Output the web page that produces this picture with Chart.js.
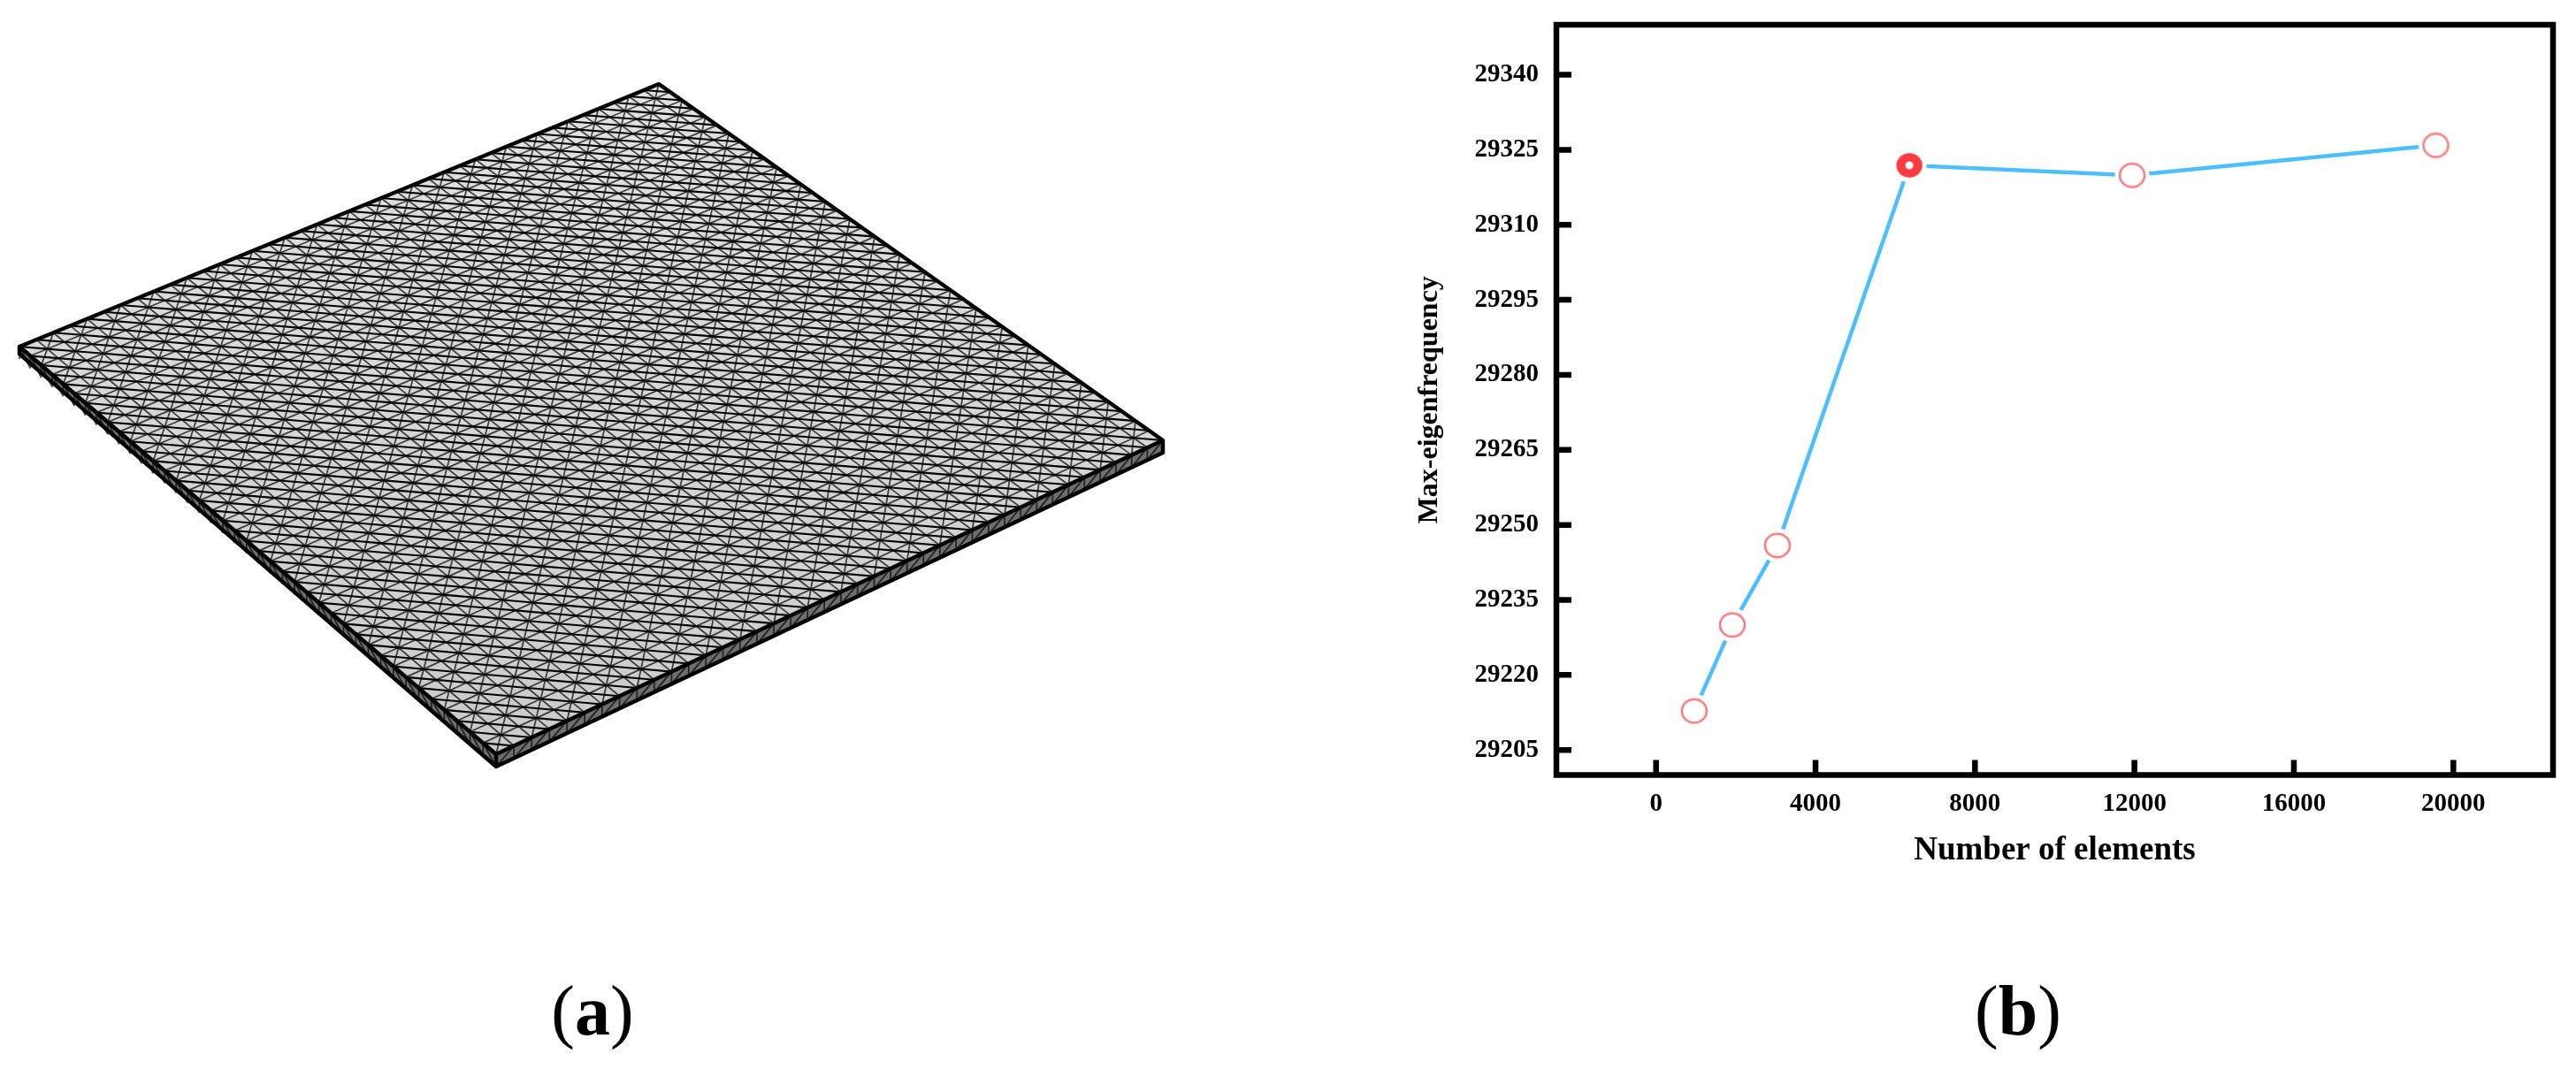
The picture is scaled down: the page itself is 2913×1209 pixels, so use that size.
<!DOCTYPE html>
<html>
<head>
<meta charset="utf-8">
<title>Max-eigenfrequency</title>
<script src="https://cdn.jsdelivr.net/npm/chart.js@4/dist/chart.umd.min.js"></script>
<style>
  html, body { margin: 0; padding: 0; background: #fff; width: 2913px; height: 1209px; overflow: hidden; }
  canvas { position: absolute; }
  #malha { left: 0; top: 0; }
  #grafico { left: 1560px; top: 0; }
  .legenda { position: absolute; top: 1098px; width: 200px; text-align: center; font: 400 80px "Liberation Serif", serif; color: #000; }
  .legenda b { font-weight: 700; }
</style>
</head>
<body>
<canvas id="malha" width="1400" height="950"></canvas>
<canvas id="grafico" width="1353" height="1000"></canvas>
<div class="legenda" style="left:570px">(<b>a</b>)</div>
<div class="legenda" style="left:2182px">(<b>b</b>)</div>
<script>
const elementos = [957, 1914, 3043, 6354, 11943, 19560];
const frequencias = [29212.8, 29230, 29245.9, 29321.9, 29319.9, 29325.9];
const marcadorDestaque = 3; // ponto cheio em vermelho

const ticksX = [0, 4000, 8000, 12000, 16000, 20000];
const ticksY = [29205, 29220, 29235, 29250, 29265, 29280, 29295, 29310, 29325, 29340];

const fonteSerif = '"Liberation Serif", "Times New Roman", serif';

function criarMarcador(cheio) {
    const c = document.createElement('canvas');
    c.width = 44;
    c.height = 44;
    const g = c.getContext('2d');
    // halo branco: a linha para antes de encostar no marcador
    g.fillStyle = '#fff';
    g.beginPath();
    g.arc(22, 22, 19.5, 0, Math.PI * 2);
    g.fill();
    g.beginPath();
    if (cheio) {
        g.ellipse(22, 22, 14.7, 13.7, 0, 0, Math.PI * 2);
        g.fillStyle = '#ff3b3f';
        g.fill();
        g.beginPath();
        g.arc(22, 22, 4.5, 0, Math.PI * 2);
        g.fillStyle = '#fff';
        g.fill();
    } else {
        g.ellipse(22, 22, 14, 13.2, 0, 0, Math.PI * 2);
        g.strokeStyle = '#ff7a7c';
        g.lineWidth = 2.6;
        g.stroke();
    }
    return c;
}

const anelVazio = criarMarcador(false);
const anelCheio = criarMarcador(true);

// moldura e ticks para dentro, o chart.js so desenha ticks para fora
const molduraPlugin = {
    id: 'moldura',
    afterDatasetsDraw(chart) {
        const { ctx, chartArea: a, scales } = chart;
        ctx.save();
        ctx.strokeStyle = '#000';
        ctx.lineWidth = 6.5;
        ctx.strokeRect(a.left, a.top, a.right - a.left, a.bottom - a.top);
        ctx.beginPath();
        scales.x.ticks.forEach((t, i) => {
            const px = scales.x.getPixelForTick(i);
            ctx.moveTo(px, a.bottom);
            ctx.lineTo(px, a.bottom - 17);
        });
        scales.y.ticks.forEach((t, i) => {
            const py = scales.y.getPixelForTick(i);
            ctx.moveTo(a.left, py);
            ctx.lineTo(a.left + 17, py);
        });
        ctx.stroke();
        ctx.restore();
    }
};

new Chart(document.getElementById('grafico'), {
    type: 'line',
    data: {
        datasets: [{
            data: elementos.map((x, i) => ({ x, y: frequencias[i] })),
            borderColor: '#4dbeff',
            borderWidth: 4.5,
            tension: 0,
            fill: false,
            pointRadius: 16,
            pointStyle: ctx => ctx.dataIndex === marcadorDestaque ? anelCheio : anelVazio
        }]
    },
    options: {
        responsive: false,
        animation: false,
        layout: { padding: { top: 28, right: 26, left: 0, bottom: 0 } },
        plugins: { legend: { display: false }, tooltip: { enabled: false } },
        scales: {
            x: {
                type: 'linear',
                min: -2500,
                max: 22500,
                grid: { display: false, drawTicks: false },
                border: { display: false },
                afterBuildTicks: s => { s.ticks = ticksX.map(value => ({ value })); },
                afterFit: s => { s.height = 123.5; s.paddingLeft = 0; s.paddingRight = 0; },
                ticks: {
                    autoSkip: false,
                    maxRotation: 0,
                    padding: 16,
                    color: '#000',
                    font: { family: fonteSerif, size: 29, weight: 'bold' },
                    callback: v => String(v)
                },
                title: {
                    display: true,
                    text: 'Number of elements',
                    color: '#000',
                    padding: { top: 0, bottom: 15 },
                    font: { family: fonteSerif, size: 37, weight: 'bold' }
                }
            },
            y: {
                type: 'linear',
                min: 29200,
                max: 29350,
                grid: { display: false, drawTicks: false },
                border: { display: false },
                afterBuildTicks: s => { s.ticks = ticksY.map(value => ({ value })); },
                afterFit: s => { s.width = 200; s.paddingTop = 0; s.paddingBottom = 0; },
                ticks: {
                    autoSkip: false,
                    padding: 20,
                    color: '#000',
                    font: { family: fonteSerif, size: 29, weight: 'bold' },
                    callback: v => String(v)
                },
                title: {
                    display: true,
                    text: 'Max-eigenfrequency',
                    color: '#000',
                    padding: { top: 38, bottom: 0 },
                    font: { family: fonteSerif, size: 32, weight: 'bold' }
                }
            }
        }
    },
    plugins: [molduraPlugin]
});

// painel (a): a placa com malha triangular, desenhada a parte
const topo = [745, 95], esquerda = [22, 392], direita = [1315, 498], baixo = [561, 853];
const espessura = 14;
const nCelulas = 40;

function homografia(u, v) {
    // mapeia o quadrado unitario nos quatro cantos: (0,0) topo, (1,0) esquerda, (1,1) baixo, (0,1) direita
    const [x0, y0] = topo, [x1, y1] = esquerda, [x2, y2] = baixo, [x3, y3] = direita;
    const dx1 = x1 - x2, dx2 = x3 - x2, sx = x0 - x1 + x2 - x3;
    const dy1 = y1 - y2, dy2 = y3 - y2, sy = y0 - y1 + y2 - y3;
    const det = dx1 * dy2 - dx2 * dy1;
    const g = (sx * dy2 - dx2 * sy) / det;
    const h = (dx1 * sy - sx * dy1) / det;
    const a = x1 - x0 + g * x1, b = x3 - x0 + h * x3;
    const d = y1 - y0 + g * y1, e = y3 - y0 + h * y3;
    const w = g * u + h * v + 1;
    return [(a * u + b * v + x0) / w, (d * u + e * v + y0) / w];
}

function desenharMalha() {
    const g = document.getElementById('malha').getContext('2d');
    const n = nCelulas;
    const p = (i, j) => homografia(i / n, j / n);
    const linha = (a, b) => { g.moveTo(a[0], a[1]); g.lineTo(b[0], b[1]); };

    // faces
    const fundo = g.createLinearGradient(0, topo[1], 0, baixo[1]);
    fundo.addColorStop(0, '#e2e2e2');
    fundo.addColorStop(1, '#cbcbcb');
    g.fillStyle = fundo;
    g.beginPath();
    g.moveTo(topo[0], topo[1]);
    g.lineTo(esquerda[0], esquerda[1]);
    g.lineTo(baixo[0], baixo[1]);
    g.lineTo(direita[0], direita[1]);
    g.closePath();
    g.fill();
    g.fillStyle = '#6e6e6e';
    g.beginPath();
    g.moveTo(esquerda[0], esquerda[1]);
    g.lineTo(esquerda[0], esquerda[1] + espessura * 0.6);
    g.lineTo(baixo[0], baixo[1] + espessura);
    g.lineTo(direita[0], direita[1] + espessura);
    g.lineTo(direita[0], direita[1]);
    g.lineTo(baixo[0], baixo[1]);
    g.closePath();
    g.fill();

    // arestas da malha
    g.strokeStyle = 'rgba(0,0,0,0.7)';
    g.lineWidth = 1.8;
    g.beginPath();
    for (let k = 0; k <= n; k++) {
        linha(p(k, 0), p(k, n));
        linha(p(0, k), p(n, k));
    }
    for (let i = 0; i < n; i++) {
        for (let j = 0; j < n; j++) {
            // diagonal quase vertical alternada
            if ((i + j) % 2 === 0) linha(p(i, j), p(i + 1, j + 1));
        }
    }
    // malha nas laterais
    for (let k = 0; k <= n; k++) {
        const e = p(n, k), d = p(k, n);
        linha(e, [e[0], e[1] + espessura]);
        linha(d, [d[0], d[1] + espessura]);
        if (k < n) {
            const e2 = p(n, k + 1), d2 = p(k + 1, n);
            linha(e, [e2[0], e2[1] + espessura]);
            linha(d, [d2[0], d2[1] + espessura]);
        }
    }
    g.stroke();

    // diagonais quase horizontais, mais fortes
    g.strokeStyle = '#000';
    g.lineWidth = 2.1;
    g.beginPath();
    for (let i = 0; i < n; i++) {
        for (let j = 0; j < n; j++) {
            linha(p(i + 1, j), p(i, j + 1));
        }
    }
    g.stroke();

    // contorno
    g.strokeStyle = '#000';
    g.lineWidth = 4.5;
    g.lineJoin = 'round';
    g.beginPath();
    g.moveTo(esquerda[0], esquerda[1]);
    g.lineTo(topo[0], topo[1]);
    g.lineTo(direita[0], direita[1]);
    g.lineTo(baixo[0], baixo[1]);
    g.lineTo(esquerda[0], esquerda[1]);
    g.lineTo(esquerda[0], esquerda[1] + espessura * 0.6);
    g.lineTo(baixo[0], baixo[1] + espessura);
    g.lineTo(direita[0], direita[1] + espessura);
    g.lineTo(direita[0], direita[1]);
    g.moveTo(baixo[0], baixo[1]);
    g.lineTo(baixo[0], baixo[1] + espessura);
    g.stroke();
}

desenharMalha();
</script>
</body>
</html>
